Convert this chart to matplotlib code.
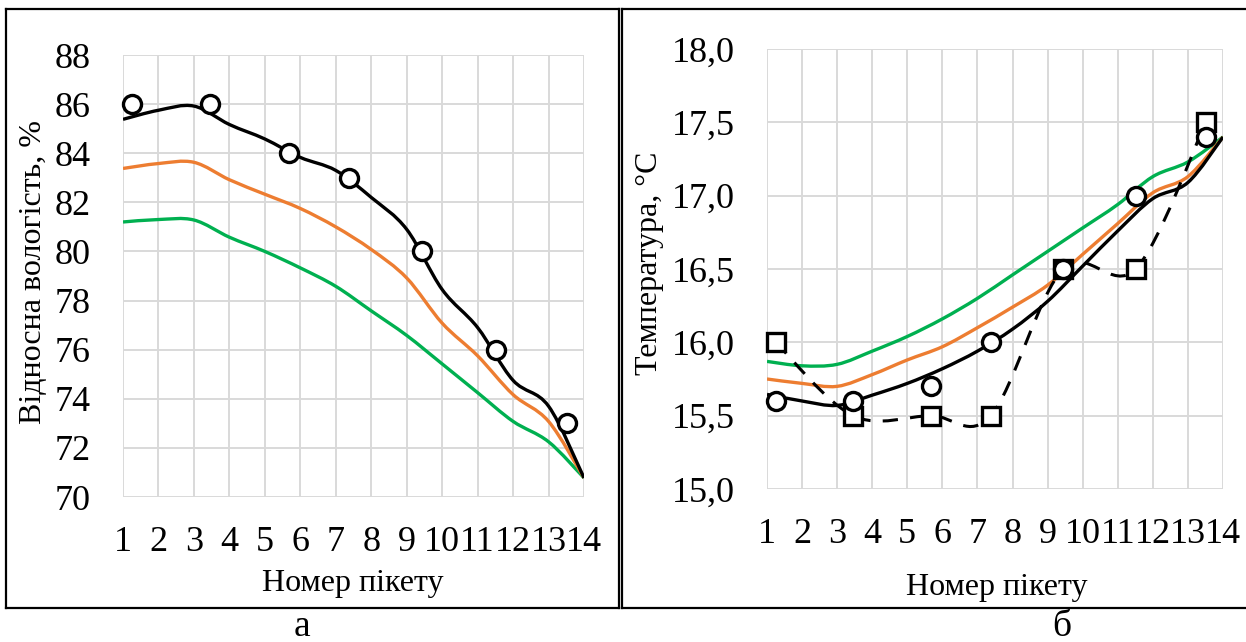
import numpy as np
import matplotlib
matplotlib.use("Agg")
import matplotlib.pyplot as plt
from matplotlib.path import Path
from matplotlib.patches import PathPatch
from matplotlib.lines import Line2D

plt.rcParams['font.family'] = ['Liberation Serif', 'DejaVu Serif']

# ---- data -------------------------------------------------------------
pickets = list(range(1, 15))
picket_labels = [str(p) for p in pickets]

# relative humidity, %
hum_black = [85.38, 85.75, 85.92, 85.17, 84.58, 83.83, 83.3, 82.2, 80.9,
             78.45, 76.9, 74.75, 73.7, 70.78]
hum_orange = [83.38, 83.58, 83.63, 82.92, 82.33, 81.75, 81.0, 80.08, 78.92,
              77.08, 75.75, 74.17, 73.08, 70.78]
hum_green = [81.2, 81.3, 81.28, 80.58, 80.0, 79.33, 78.58, 77.58, 76.58,
             75.42, 74.25, 73.08, 72.25, 70.78]
meas_x = [1.25, 3.45, 5.67, 7.38, 9.44, 11.51, 13.51]
hum_meas = [86, 86, 84, 83, 80, 76, 73]
hum_ticks = [70, 72, 74, 76, 78, 80, 82, 84, 86, 88]
hum_tick_labels = [str(v) for v in hum_ticks]

# temperature, °C
temp_black = [15.645, 15.60, 15.57, 15.64, 15.72, 15.82, 15.94, 16.09, 16.28,
              16.52, 16.76, 16.98, 17.09, 17.40]
temp_orange = [15.75, 15.72, 15.70, 15.78, 15.88, 15.97, 16.10, 16.24, 16.39,
               16.60, 16.81, 17.02, 17.13, 17.40]
temp_green = [15.87, 15.84, 15.85, 15.94, 16.04, 16.16, 16.30, 16.46, 16.62,
              16.78, 16.94, 17.13, 17.23, 17.40]
temp_meas_circ = [15.6, 15.6, 15.7, 16.0, 16.5, 17.0, 17.4]
temp_meas_sq = [16.0, 15.5, 15.5, 15.5, 16.5, 16.5, 17.5]
temp_ticks = [15.0, 15.5, 16.0, 16.5, 17.0, 17.5, 18.0]
temp_tick_labels = ['15,0', '15,5', '16,0', '16,5', '17,0', '17,5', '18,0']

ORANGE = '#ED7D31'
GREEN = '#00B050'
GRID = '#d9d9d9'

W, H = 1246, 642


def smooth_path(xs, ys):
    """Cubic Bezier path through the points (Catmull-Rom style smoothing)."""
    p = np.column_stack([xs, ys]).astype(float)
    n = len(p)
    verts = [p[0]]
    codes = [Path.MOVETO]
    for i in range(n - 1):
        p0 = p[i - 1] if i > 0 else p[i]
        p3 = p[i + 2] if i + 2 < n else p[i + 1]
        c1 = p[i] + (p[i + 1] - p0) / 6.0
        c2 = p[i + 1] - (p3 - p[i]) / 6.0
        verts += [c1, c2, p[i + 1]]
        codes += [Path.CURVE4] * 3
    return Path(verts, codes)


def add_curve(ax, xs, ys, color, ls='-', lw=2.4, z=3):
    patch = PathPatch(smooth_path(xs, ys), facecolor='none', edgecolor=color,
                      lw=lw, linestyle=ls, zorder=z, capstyle='butt',
                      joinstyle='round')
    ax.add_patch(patch)


def box(l, t, r, b):
    return [l / W, 1 - b / H, (r - l) / W, (b - t) / H]


def style_axes(ax, yticks, ylabels, ylim):
    ax.set_xlim(1, 14)
    ax.set_ylim(*ylim)
    ax.set_xticks(pickets)
    ax.set_xticklabels(picket_labels)
    ax.set_yticks(yticks)
    ax.set_yticklabels(ylabels)
    for s in ax.spines.values():
        s.set_visible(False)
    ax.grid(True, color=GRID, lw=1.4, zorder=0)
    ax.set_axisbelow(True)
    ax.tick_params(axis='both', length=0, labelsize=26)
    ax.tick_params(axis='x', pad=21)
    ax.tick_params(axis='y', pad=23)


fig = plt.figure(figsize=(W / 100, H / 100), dpi=100)

# ---- panel a: humidity ------------------------------------------------
ax1 = fig.add_axes(box(123, 55, 584, 497))
style_axes(ax1, hum_ticks, hum_tick_labels, (70, 88))
add_curve(ax1, pickets, hum_green, GREEN)
add_curve(ax1, pickets, hum_orange, ORANGE)
add_curve(ax1, pickets, hum_black, 'black')
ax1.plot(meas_x, hum_meas, 'o', ms=13, mew=2.4, mec='black', mfc='white',
         zorder=6, clip_on=False)

# ---- panel b: temperature ---------------------------------------------
ax2 = fig.add_axes(box(767, 49, 1223, 489))
style_axes(ax2, temp_ticks, temp_tick_labels, (15.0, 18.0))
add_curve(ax2, pickets, temp_green, GREEN)
add_curve(ax2, pickets, temp_orange, ORANGE)
add_curve(ax2, pickets, temp_black, 'black')
add_curve(ax2, meas_x, temp_meas_sq, 'black', ls=(0, (5, 4)), lw=2.2, z=4)
ax2.plot(meas_x, temp_meas_sq, 's', ms=13, mew=2.4, mec='black', mfc='white',
         zorder=5, clip_on=False)
ax2.plot(meas_x, temp_meas_circ, 'o', ms=13, mew=2.4, mec='black',
         mfc='white', zorder=6, clip_on=False)

# ---- axis titles and captions -----------------------------------------
def ftext(x, y, s, va='center', **kw):
    fig.text(x / W, 1 - y / H, s, ha='center', va=va, **kw)


ftext(34, 272, 'Відносна вологість, %', rotation=90, fontsize=23)
ftext(650, 263, 'Температура, °С', rotation=90, fontsize=23)
ftext(353, 583, 'Номер пікету', fontsize=23)
ftext(997, 588, 'Номер пікету', fontsize=23)
ftext(302, 636, 'а', va='baseline', fontsize=27)
ftext(1062, 636, 'б', va='baseline', fontsize=27)

# ---- panel frames -----------------------------------------------------
def fline(x0, y0, x1, y1, lw=1.6):
    fig.add_artist(Line2D([x0 / W, x1 / W], [1 - y0 / H, 1 - y1 / H],
                          transform=fig.transFigure, color='black', lw=lw))


fline(6.3, 9.3, 619, 9.3)
fline(6.3, 9.3, 6.3, 608.3)
fline(6.3, 608.3, 619, 608.3)
fline(619, 9.3, 619, 608.3)
fline(622.3, 9.3, 1250, 9.3)
fline(622.3, 9.3, 622.3, 608.3)
fline(622.3, 608.3, 1250, 608.3)

fig.savefig('out.png', dpi=100)
